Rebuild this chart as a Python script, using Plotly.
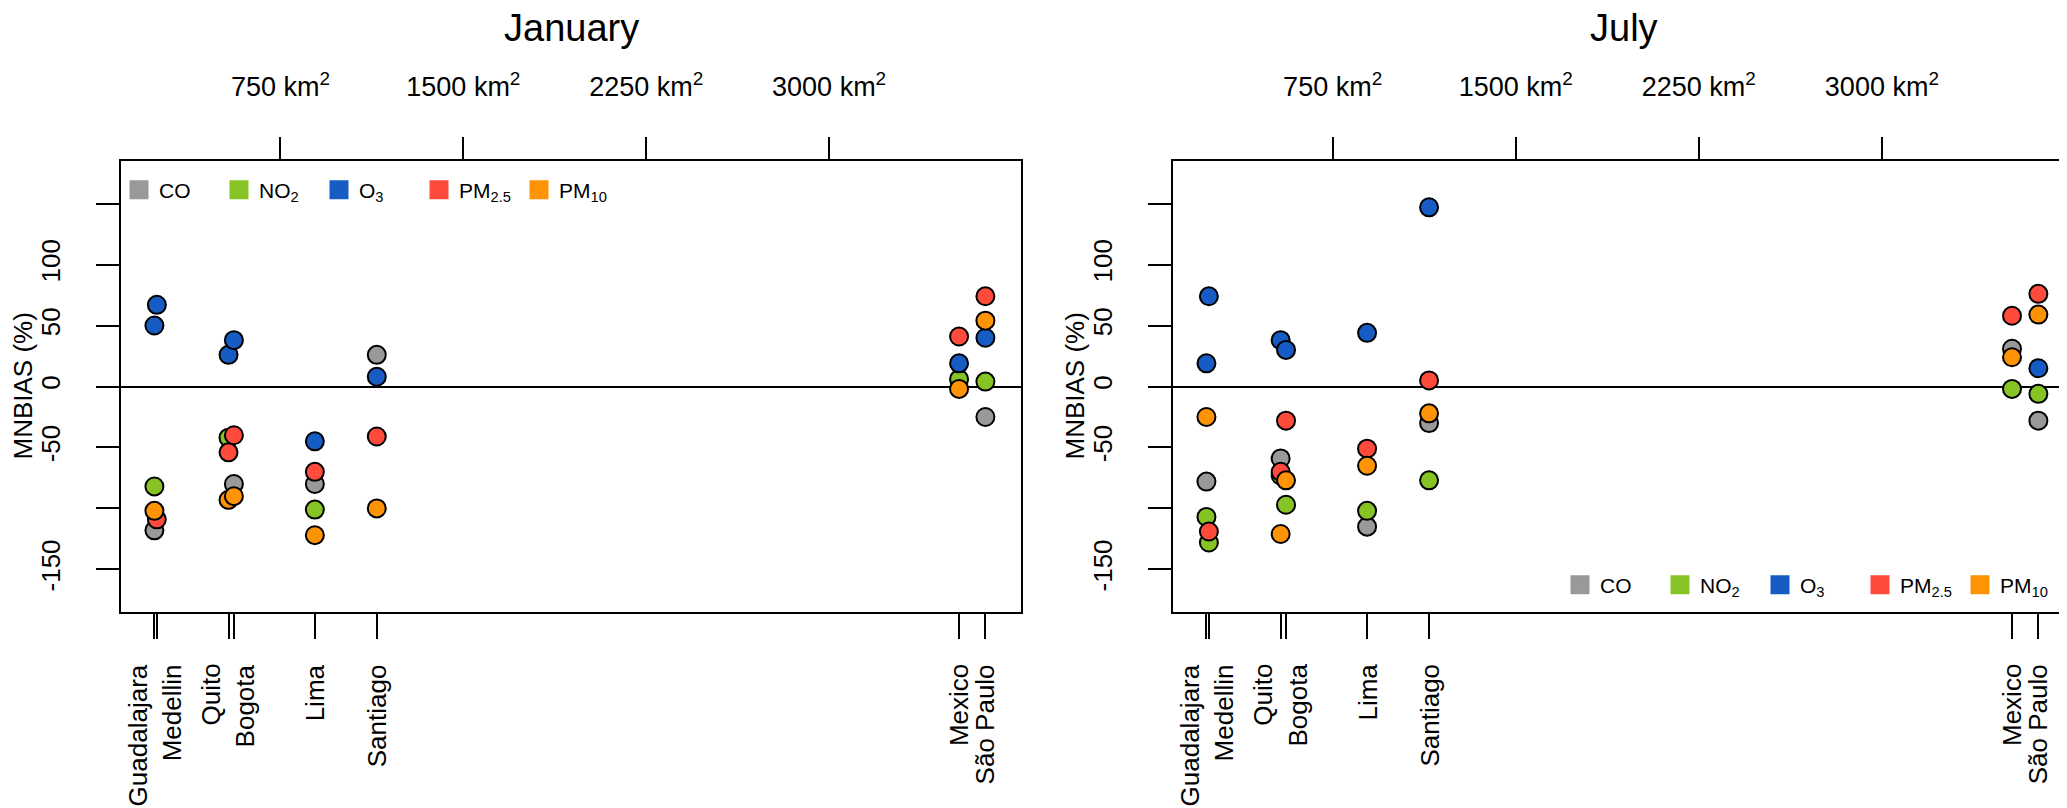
import plotly.graph_objects as go

# ---------------- data ----------------
cities = ["Guadalajara", "Medellin", "Quito", "Bogota", "Lima", "Santiago", "Mexico", "São Paulo"]
area_km2 = [233, 243, 537, 559, 891, 1145, 3533, 3641]

pollutants = ["CO", "NO2", "O3", "PM2.5", "PM10"]
pollutant_labels = ["CO", "NO<sub>2</sub>", "O<sub>3</sub>", "PM<sub>2.5</sub>", "PM<sub>10</sub>"]

# January MNBIAS (%) per city (None = not shown)
jan_co   = [-118, None, None, -80, -80, 26, None, -25]
jan_no2  = [-82, None, -42, None, -101, None, 6, 4]
jan_o3   = [50, 67, 26, 38, -45, 8, 19, 40]
jan_pm25 = [None, -109, -54, -40, -70, -41, 41, 74]
jan_pm10 = [-102, None, -93, -90, -122, -100, -2, 54]

# July MNBIAS (%) per city
jul_co   = [-78, None, -59, None, -115, -30, 31, -28]
jul_no2  = [-107, -128, -73, -97, -102, -77, -2, -6]
jul_o3   = [19, 74, 38, 30, 44, 147, None, 15]
jul_pm25 = [None, -119, -70, -28, -51, 5, 58, 76]
jul_pm10 = [-25, None, -121, -77, -65, -22, 24, 59]

area_ticks = [750, 1500, 2250, 3000]
area_tick_labels = ["750 km<sup>2</sup>", "1500 km<sup>2</sup>", "2250 km<sup>2</sup>", "3000 km<sup>2</sup>"]
bias_ticks = [-150, -100, -50, 0, 50, 100, 150]
bias_tick_labels = ["-150", "", "-50", "0", "50", "100", ""]

# ---------------- style ----------------
colors = {"CO": "#999999", "NO2": "#86C425", "O3": "#165CC4", "PM2.5": "#FF4B3B", "PM10": "#FF9306"}
label_xshift = {"Guadalajara": -16, "Medellin": 15, "Quito": -18, "Bogota": 11}
FONT = "Liberation Sans, Arial, Helvetica, sans-serif"
W, H = 2067, 808
X_RANGE = [96, 3787]
Y_RANGE = [-185, 185]

panels = [
    dict(title="January", data=[jan_co, jan_no2, jan_o3, jan_pm25, jan_pm10],
         xb="x", xt="x2", y="y", px=(113, 1013), legend="legend", leg=(131, 182)),
    dict(title="July", data=[jul_co, jul_no2, jul_o3, jul_pm25, jul_pm10],
         xb="x3", xt="x4", y="y2", px=(1165, 2066), legend="legend2", leg=(1572, 577)),
]

fig = go.Figure()
ydom = [(H - 604) / H, (H - 153) / H]
annotations = []
layout_axes = {}
legends = {}

def axname(a):
    return "xaxis" + a[1:] if a.startswith("x") else "yaxis" + a[1:]

for p in panels:
    # data markers
    for pol, vals in zip(pollutants, p["data"]):
        fig.add_trace(go.Scatter(
            x=area_km2, y=vals, mode="markers", xaxis=p["xb"], yaxis=p["y"],
            marker=dict(size=18, color=colors[pol], line=dict(color="black", width=2)),
            showlegend=False, hoverinfo="skip", cliponaxis=False))
    # dummy trace so the top axis is drawn
    fig.add_trace(go.Scatter(x=[None], y=[None], xaxis=p["xt"], yaxis=p["y"],
                             showlegend=False, mode="markers"))
    # legend entries
    for pol, lab in zip(pollutants, pollutant_labels):
        fig.add_trace(go.Scatter(
            x=[None], y=[None], mode="markers", name=lab, xaxis=p["xb"], yaxis=p["y"],
            marker=dict(symbol="square", size=16, color=colors[pol],
                        line=dict(color=colors[pol], width=3)),
            legend=p["legend"], showlegend=True))

    dom = [p["px"][0] / W, p["px"][1] / W]
    layout_axes[axname(p["xb"])] = dict(
        domain=dom, range=X_RANGE, anchor=p["y"], tickvals=area_km2,
        showticklabels=False, ticks="outside", ticklen=25, tickwidth=2, tickcolor="black",
        showline=True, linewidth=2, linecolor="black", mirror=True,
        showgrid=False, zeroline=False)
    layout_axes[axname(p["xt"])] = dict(
        overlaying=p["xb"], side="top", anchor=p["y"], range=X_RANGE,
        tickvals=area_ticks, ticktext=area_tick_labels, ticks="outside", ticklen=23,
        tickwidth=2, tickcolor="black", showline=False, showgrid=False, zeroline=False,
        tickfont=dict(size=27, color="black", family=FONT), ticklabelstandoff=30)
    layout_axes[axname(p["y"])] = dict(
        domain=ydom, range=Y_RANGE, anchor=p["xb"], tickvals=bias_ticks,
        ticktext=bias_tick_labels, tickangle=-90, ticks="outside", ticklen=23,
        tickwidth=2, tickcolor="black", showline=True, linewidth=2, linecolor="black",
        mirror=True, showgrid=False, zeroline=True, zerolinewidth=2, zerolinecolor="black",
        tickfont=dict(size=26, color="black", family=FONT), ticklabelstandoff=26)

    xd = p["xb"] + " domain"
    yd = p["y"] + " domain"
    # panel title
    annotations.append(dict(text=p["title"], xref=xd, x=0.5, yref="paper", y=(H - 20) / H,
                            xanchor="center", yanchor="middle", showarrow=False,
                            font=dict(size=38, color="black", family=FONT)))
    # y axis title
    annotations.append(dict(text="MNBIAS (%)", xref=xd, x=0, xshift=-99, yref=yd, y=0.5,
                            xanchor="center", yanchor="middle", textangle=-90, showarrow=False,
                            font=dict(size=26, color="black", family=FONT)))
    # city labels
    for c, a in zip(cities, area_km2):
        annotations.append(dict(text=c, xref=p["xb"], x=a, xshift=label_xshift.get(c, 0),
                                yref=yd, y=0, yshift=-50, xanchor="center", yanchor="top",
                                textangle=-90, showarrow=False,
                                font=dict(size=26, color="black", family=FONT)))

    legends[p["legend"]] = dict(
        x=(p["leg"][0] - 20) / W, y=(H - p["leg"][1]) / H,
        orientation="h", xanchor="left", yanchor="middle",
        font=dict(size=21, color="black", family=FONT),
        bgcolor="rgba(0,0,0,0)", borderwidth=0, entrywidth=55,
        entrywidthmode="pixels", traceorder="normal", itemclick=False)

fig.update_layout(
    width=W, height=H, margin=dict(l=0, r=0, t=0, b=0),
    paper_bgcolor="white", plot_bgcolor="white",
    font=dict(family=FONT, color="black"),
    annotations=annotations,
    **legends,
    **layout_axes,
)

fig.write_html("out.html")
